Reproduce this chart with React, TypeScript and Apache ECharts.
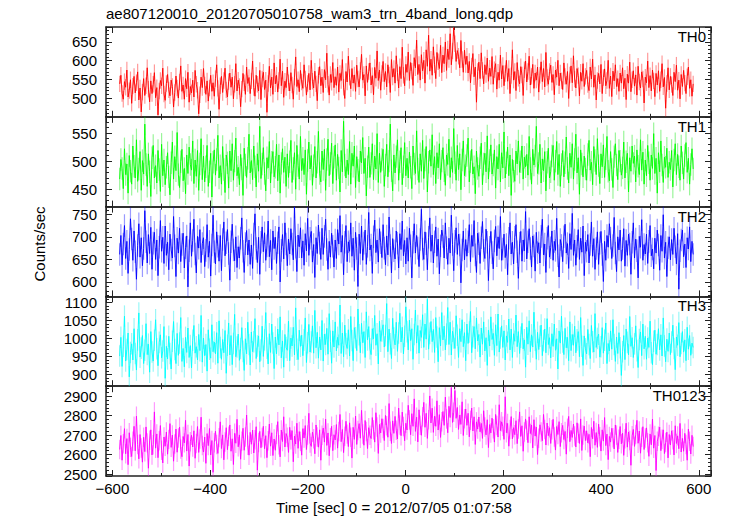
import React, { useEffect, useRef } from 'react';
import * as echarts from 'echarts';

const TITLE = 'ae807120010_20120705010758_wam3_trn_4band_long.qdp';
const X_NAME = 'Time [sec] 0 = 2012/07/05 01:07:58';
const Y_NAME = 'Counts/sec';
const PANEL_NAMES = ['TH0', 'TH1', 'TH2', 'TH3', 'TH0123'];
const COLORS = ['#ff0000', '#00ff00', '#0000ff', '#00ffff', '#ff00ff'];
const ERR_COLORS = ['rgba(255,0,0,0.4)', 'rgba(0,230,0,0.4)', 'rgba(0,0,255,0.4)', 'rgba(0,235,235,0.4)', 'rgba(255,0,255,0.4)'];
const Y_MIN = [450, 419, 568, 867, 2490];
const Y_MAX = [690, 579, 767, 1117, 2951];
const ERRORS = [22, 20, 25, 30, 50];
const X_MIN = -613;
const X_MAX = 625;
const T_START = -585;
const BIN = 2.45;

const TH0 = [
  538, 561, 512, 497, 544, 529, 575, 503, 520, 549,
  486, 532, 558, 514, 541, 570, 495, 527, 463, 516,
  552, 507, 533, 581, 524, 490, 546, 512, 537, 568,
  501, 528, 455, 519, 547, 533, 580, 511, 494, 539,
  563, 522, 506, 548, 531, 476, 515, 559, 527, 500,
  543, 586, 518, 535, 497, 552, 525, 569, 489, 531,
  514, 548, 503, 574, 537, 521, 458, 509, 556, 528,
  579, 535, 510, 546, 492, 527, 561, 518, 541, 505,
  552, 589, 526, 470, 533, 558, 515, 547, 580, 522,
  503, 544, 567, 529, 556, 498, 537, 592, 519, 548,
  531, 477, 524, 566, 541, 510, 583, 539, 555, 512,
  546, 599, 528, 505, 561, 537, 519, 574, 496, 551,
  569, 523, 548, 462, 539, 585, 527, 556, 510, 594,
  538, 561, 516, 547, 604, 533, 572, 502, 545, 528,
  583, 541, 519, 568, 535, 497, 556, 610, 531, 549,
  517, 574, 543, 526, 589, 551, 508, 539, 566, 522,
  601, 545, 527, 572, 538, 493, 561, 584, 533, 556,
  515, 576, 549, 620, 537, 508, 563, 542, 595, 528,
  557, 534, 583, 516, 566, 547, 603, 529, 499, 571,
  543, 612, 556, 525, 579, 540, 562, 518, 588, 551,
  530, 574, 617, 548, 563, 506, 586, 542, 571, 594,
  535, 560, 509, 582, 553, 626, 547, 575, 521, 566,
  598, 544, 571, 530, 589, 562, 515, 603, 556, 579,
  540, 613, 568, 527, 584, 552, 636, 561, 533, 590,
  569, 623, 547, 595, 572, 534, 608, 581, 655, 563,
  590, 548, 616, 573, 601, 540, 629, 585, 668, 572,
  604, 561, 637, 589, 552, 622, 597, 579, 641, 568,
  615, 592, 650, 574, 631, 603, 672, 589, 626, 688,
  645, 598, 627, 612, 581, 654, 603, 569, 628, 590,
  612, 567, 598, 541, 586, 619, 557, 583, 489, 571,
  596, 552, 621, 574, 538, 589, 563, 607, 545, 580,
  558, 611, 537, 576, 592, 524, 569, 548, 615, 551,
  587, 533, 566, 601, 545, 579, 512, 560, 629, 548,
  571, 520, 595, 553, 538, 584, 562, 507, 576, 599,
  543, 571, 612, 535, 558, 590, 526, 567, 548, 583,
  516, 561, 597, 544, 579, 530, 622, 555, 537, 571,
  588, 542, 563, 509, 575, 556, 601, 533, 567, 546,
  523, 594, 558, 537, 571, 499, 562, 586, 541, 613,
  551, 527, 579, 560, 506, 569, 545, 592, 531, 558,
  574, 536, 520, 583, 551, 604, 529, 562, 495, 547,
  566, 538, 590, 512, 555, 578, 533, 547, 601, 526,
  559, 504, 572, 546, 589, 531, 552, 518, 567, 540,
  581, 525, 553, 496, 564, 540, 596, 517, 549, 573,
  532, 562, 508, 585, 543, 527, 570, 551, 487, 556,
  541, 599, 528, 560, 519, 575, 546, 504, 566, 535,
  573, 518, 549, 592, 530, 555, 473, 539, 581, 522,
  558, 536, 507, 569, 544, 588, 521, 548, 498, 563,
  531, 574, 540, 512, 557, 583, 526, 549, 505, 538,
];

const TH1 = [
  468, 503, 487, 451, 522, 476, 495, 443, 510, 482,
  459, 527, 491, 470, 538, 464, 486, 517, 448, 501,
  477, 566, 494, 455, 513, 481, 437, 506, 528, 470,
  492, 461, 519, 485, 446, 530, 474, 502, 458, 489,
  515, 472, 440, 497, 534, 468, 508, 483, 551, 476,
  453, 499, 521, 465, 487, 442, 511, 478, 525, 494,
  484, 536, 460, 502, 473, 519, 448, 495, 540, 467,
  509, 463, 490, 528, 455, 481, 514, 436, 498, 520,
  475, 503, 546, 470, 492, 459, 526, 485, 444, 511,
  497, 452, 518, 483, 531, 466, 500, 541, 474, 489,
  458, 512, 486, 439, 523, 493, 471, 505, 548, 479,
  501, 467, 527, 490, 454, 513, 482, 562, 469, 495,
  524, 478, 447, 506, 488, 535, 461, 498, 517, 472,
  489, 530, 465, 511, 443, 496, 522, 480, 507, 455,
  513, 471, 499, 537, 462, 487, 515, 450, 528, 492,
  468, 544, 483, 505, 476, 520, 441, 501, 534, 486,
  510, 457, 492, 526, 470, 498, 553, 478, 463, 518,
  485, 521, 448, 503, 539, 474, 496, 532, 460, 507,
  529, 466, 512, 488, 445, 519, 481, 571, 493, 470,
  502, 476, 535, 459, 514, 491, 527, 453, 508, 484,
  463, 518, 497, 542, 478, 505, 438, 490, 525, 471,
  496, 531, 467, 509, 486, 549, 462, 514, 480, 503,
  521, 455, 493, 530, 472, 500, 566, 483, 447, 511,
  479, 508, 538, 466, 499, 524, 458, 490, 533, 474,
  505, 470, 516, 489, 451, 527, 495, 478, 554, 486,
  462, 513, 482, 537, 469, 502, 526, 445, 498, 520,
  491, 547, 476, 508, 460, 515, 488, 531, 467, 500,
  524, 483, 457, 511, 494, 539, 471, 506, 480, 558,
  497, 466, 528, 485, 513, 449, 502, 536, 474, 492,
  510, 541, 463, 499, 521, 477, 490, 442, 518, 487,
  473, 506, 532, 458, 495, 514, 481, 545, 468, 501,
  529, 477, 493, 520, 452, 508, 486, 530, 463, 515,
  488, 552, 470, 497, 525, 474, 511, 439, 503, 482,
  464, 518, 495, 536, 480, 499, 527, 468, 507, 490,
  512, 475, 544, 487, 459, 521, 493, 509, 562, 478,
  496, 530, 461, 504, 483, 517, 447, 498, 523, 470,
  481, 509, 528, 466, 500, 535, 476, 512, 455, 494,
  519, 472, 497, 543, 487, 461, 514, 489, 531, 468,
  503, 548, 479, 506, 441, 520, 495, 472, 509, 486,
  466, 512, 537, 484, 498, 458, 526, 501, 476, 540,
  492, 460, 513, 490, 529, 471, 504, 544, 482, 465,
  517, 485, 453, 508, 531, 493, 467, 519, 500, 475,
  488, 534, 470, 499, 514, 445, 506, 482, 527, 496,
  509, 463, 520, 491, 476, 538, 484, 516, 459, 502,
  474, 528, 497, 466, 511, 487, 549, 478, 505, 443,
  515, 481, 536, 493, 462, 507, 489, 523, 471, 498,
  485, 519, 454, 502, 531, 476, 512, 490, 466, 527,
  497, 468, 510, 533, 480, 505, 459, 494, 522, 486,
];

const TH2 = [
  661, 703, 638, 684, 725, 652, 690, 619, 672, 740,
  695, 648, 713, 667, 606, 681, 729, 655, 698, 636,
  674, 758, 689, 642, 705, 663, 721, 628, 686, 710,
  650, 693, 614, 677, 736, 668, 699, 641, 724, 659,
  688, 627, 706, 671, 653, 745, 680, 612, 697, 664,
  719, 645, 683, 708, 631, 676, 702, 589, 669, 731,
  657, 692, 739, 662, 620, 701, 675, 716, 643, 685,
  698, 634, 670, 727, 655, 690, 613, 682, 748, 667,
  640, 711, 679, 646, 703, 625, 694, 733, 658, 687,
  716, 663, 604, 689, 728, 671, 647, 700, 632, 678,
  653, 697, 742, 668, 621, 685, 714, 660, 693, 639,
  682, 630, 706, 751, 674, 643, 699, 617, 688, 722,
  667, 709, 648, 680, 735, 656, 692, 627, 713, 674,
  699, 641, 687, 722, 600, 670, 705, 651, 731, 684,
  636, 695, 662, 718, 684, 649, 766, 677, 623, 704,
  678, 720, 653, 691, 637, 707, 669, 741, 659, 697,
  712, 644, 683, 610, 698, 663, 726, 686, 650, 719,
  661, 701, 739, 672, 628, 690, 655, 708, 679, 633,
  693, 652, 716, 684, 747, 666, 703, 616, 688, 725,
  645, 689, 668, 731, 657, 697, 626, 710, 674, 590,
  706, 663, 724, 648, 686, 715, 639, 679, 754, 671,
  682, 619, 700, 737, 665, 693, 644, 718, 687, 654,
  727, 675, 638, 702, 660, 744, 681, 620, 696, 669,
  651, 713, 686, 631, 707, 672, 735, 658, 692, 640,
  698, 646, 719, 680, 609, 688, 729, 664, 703, 675,
  634, 694, 761, 673, 650, 711, 685, 627, 699, 742,
  668, 704, 642, 689, 722, 657, 695, 618, 680, 715,
  701, 653, 731, 676, 639, 697, 664, 748, 683, 625,
  690, 720, 661, 706, 682, 598, 671, 713, 649, 694,
  657, 689, 727, 645, 703, 679, 736, 660, 621, 708,
  685, 641, 698, 734, 670, 652, 717, 688, 603, 677,
  712, 665, 629, 691, 723, 658, 700, 674, 745, 648,
  673, 706, 654, 683, 616, 697, 731, 662, 688, 640,
  699, 727, 667, 608, 686, 712, 646, 693, 669, 756,
  651, 689, 718, 674, 633, 702, 680, 624, 710, 665,
  687, 642, 701, 739, 660, 684, 621, 697, 725, 655,
  676, 713, 648, 690, 670, 741, 658, 611, 694, 681,
  645, 700, 728, 664, 685, 630, 707, 672, 752, 659,
  693, 637, 679, 716, 650, 697, 666, 724, 614, 688,
  668, 705, 642, 683, 733, 657, 696, 628, 674, 711,
  639, 686, 712, 661, 601, 690, 648, 703, 677, 729,
  697, 652, 681, 743, 664, 623, 700, 671, 715, 646,
  674, 718, 635, 692, 659, 706, 684, 617, 688, 731,
  653, 695, 669, 609, 701, 677, 738, 648, 683, 662,
  706, 641, 690, 725, 658, 673, 629, 697, 664, 715,
  682, 626, 703, 668, 749, 653, 688, 612, 676, 700,
  649, 694, 661, 719, 678, 640, 707, 584, 669, 693,
  715, 656, 684, 632, 698, 673, 722, 645, 690, 661,
];

const TH3 = [
  951, 1003, 922, 978, 1062, 937, 969, 1015, 893, 961,
  985, 940, 1027, 958, 912, 996, 1071, 948, 973, 1008,
  930, 967, 1041, 955, 984, 906, 1019, 962, 937, 995,
  1052, 971, 924, 989, 1010, 946, 965, 1033, 889, 978,
  943, 1006, 958, 915, 992, 1047, 969, 930, 1014, 953,
  987, 1058, 936, 972, 921, 1003, 961, 1029, 947, 980,
  918, 995, 1036, 959, 977, 940, 1011, 966, 1064, 934,
  1001, 952, 983, 909, 1024, 970, 945, 1038, 963, 990,
  957, 1016, 931, 1049, 975, 942, 997, 960, 1022, 903,
  981, 1043, 954, 1008, 927, 986, 1067, 949, 976, 1012,
  939, 972, 1030, 964, 911, 999, 957, 1045, 983, 926,
  1018, 963, 991, 1055, 944, 979, 1007, 935, 968, 1034,
  950, 996, 1072, 973, 929, 1013, 961, 1040, 987, 916,
  1004, 957, 1026, 982, 1060, 946, 993, 920, 1011, 975,
  967, 1048, 938, 1001, 979, 1031, 954, 1085, 970, 941,
  1023, 978, 1009, 952, 996, 1057, 933, 988, 1039, 962,
  990, 1035, 959, 1078, 974, 1017, 945, 1004, 968, 1050,
  937, 1012, 983, 1028, 956, 1069, 992, 931, 1021, 976,
  1046, 965, 1003, 981, 1093, 958, 1015, 949, 1037, 985,
  972, 1024, 951, 1061, 994, 938, 1030, 1002, 966, 1082,
  1010, 960, 1042, 988, 1019, 947, 1074, 996, 1033, 971,
  955, 1027, 999, 1064, 981, 1013, 929, 1048, 992, 1021,
  1038, 976, 1008, 1097, 963, 1026, 985, 944, 1056, 1001,
  982, 1045, 964, 1015, 1070, 990, 1031, 957, 1006, 1088,
  1019, 968, 1051, 994, 1027, 942, 1011, 1079, 987, 1036,
  959, 1022, 1003, 1066, 975, 1040, 998, 1109, 970, 1014,
  1047, 991, 1025, 961, 1058, 1004, 935, 1030, 979, 1072,
  996, 1034, 968, 1012, 1086, 983, 1045, 954, 1020, 1001,
  972, 1063, 1009, 947, 1027, 991, 1052, 977, 1016, 938,
  1040, 986, 1018, 1075, 960, 1005, 1033, 971, 1057, 993,
  1011, 948, 1029, 984, 1046, 965, 1002, 925, 1023, 979,
  1060, 997, 1014, 953, 1038, 980, 1068, 962, 1001, 1035,
  975, 1021, 940, 1007, 989, 1054, 968, 1026, 947, 1013,
  992, 1065, 977, 1019, 958, 1003, 1042, 971, 996, 920,
  1031, 984, 1049, 963, 1010, 976, 1073, 995, 942, 1017,
  969, 1006, 1037, 952, 994, 1026, 960, 1055, 983, 1002,
  946, 1013, 978, 1040, 967, 999, 915, 1021, 987, 1062,
  990, 955, 1028, 974, 1003, 938, 1046, 966, 1011, 981,
  1034, 960, 996, 1019, 949, 1058, 978, 925, 1007, 971,
  957, 1025, 983, 944, 1036, 991, 962, 1069, 975, 1000,
  1012, 948, 977, 1030, 959, 995, 1043, 930, 986, 965,
  1021, 970, 1052, 983, 936, 1004, 958, 1016, 974, 897,
  963, 1008, 941, 1026, 989, 954, 1061, 978, 1002, 947,
  985, 1035, 966, 919, 997, 1018, 952, 1040, 971, 1006,
  942, 1001, 975, 1048, 960, 927, 992, 1023, 956, 983,
  1027, 968, 1010, 951, 1057, 979, 935, 998, 964, 1015,
  955, 990, 1037, 972, 913, 1004, 981, 1044, 949, 986,
  1019, 962, 996, 938, 1031, 970, 1008, 953, 987, 975,
];

const TH0123 = [
  2626, 2698, 2571, 2655, 2733, 2604, 2682, 2548, 2712, 2637,
  2590, 2668, 2745, 2619, 2797, 2652, 2578, 2703, 2634, 2561,
  2689, 2615, 2742, 2660, 2530, 2674, 2727, 2598, 2651, 2819,
  2633, 2706, 2584, 2671, 2749, 2622, 2557, 2690, 2643, 2716,
  2602, 2678, 2759, 2637, 2700, 2566, 2654, 2731, 2612, 2685,
  2741, 2628, 2589, 2693, 2660, 2776, 2618, 2703, 2541, 2666,
  2699, 2639, 2722, 2581, 2657, 2744, 2611, 2680, 2792, 2647,
  2613, 2690, 2555, 2708, 2646, 2734, 2598, 2672, 2509, 2661,
  2720, 2652, 2606, 2687, 2768, 2631, 2701, 2573, 2664, 2738,
  2625, 2694, 2752, 2617, 2681, 2549, 2709, 2658, 2781, 2640,
  2701, 2576, 2669, 2735, 2622, 2690, 2803, 2648, 2597, 2714,
  2653, 2726, 2608, 2676, 2743, 2520, 2662, 2719, 2635, 2688,
  2745, 2630, 2697, 2584, 2671, 2757, 2643, 2712, 2595, 2680,
  2622, 2703, 2769, 2650, 2588, 2726, 2667, 2794, 2639, 2708,
  2689, 2611, 2740, 2676, 2723, 2563, 2695, 2654, 2761, 2632,
  2718, 2668, 2597, 2733, 2685, 2749, 2626, 2700, 2812, 2659,
  2642, 2715, 2681, 2604, 2752, 2690, 2638, 2727, 2571, 2699,
  2736, 2664, 2782, 2647, 2711, 2594, 2687, 2745, 2620, 2702,
  2675, 2754, 2633, 2718, 2806, 2666, 2729, 2610, 2694, 2771,
  2705, 2641, 2763, 2689, 2582, 2740, 2678, 2798, 2652, 2723,
  2759, 2684, 2827, 2706, 2648, 2775, 2719, 2631, 2738, 2699,
  2682, 2790, 2727, 2664, 2815, 2741, 2606, 2755, 2711, 2784,
  2734, 2672, 2801, 2748, 2689, 2862, 2720, 2657, 2773, 2709,
  2796, 2725, 2680, 2839, 2752, 2697, 2818, 2744, 2671, 2761,
  2726, 2853, 2778, 2702, 2810, 2745, 2886, 2719, 2792, 2665,
  2830, 2751, 2699, 2794, 2868, 2740, 2812, 2683, 2779, 2901,
  2762, 2838, 2714, 2797, 2745, 2876, 2726, 2805, 2688, 2769,
  2821, 2750, 2895, 2783, 2712, 2848, 2790, 2944, 2765, 2817,
  2929, 2786, 2842, 2729, 2803, 2755, 2871, 2698, 2784, 2834,
  2750, 2812, 2691, 2776, 2839, 2721, 2794, 2652, 2768, 2731,
  2793, 2717, 2760, 2683, 2825, 2742, 2701, 2779, 2636, 2754,
  2711, 2787, 2732, 2664, 2806, 2749, 2690, 2856, 2723, 2768,
  2745, 2678, 2897, 2712, 2760, 2643, 2729, 2795, 2681, 2738,
  2702, 2774, 2656, 2731, 2819, 2693, 2748, 2617, 2716, 2783,
  2725, 2661, 2794, 2708, 2752, 2634, 2779, 2695, 2741, 2600,
  2684, 2753, 2716, 2671, 2806, 2729, 2649, 2762, 2697, 2738,
  2657, 2728, 2781, 2690, 2623, 2744, 2703, 2769, 2641, 2712,
  2750, 2677, 2719, 2602, 2735, 2796, 2666, 2724, 2688, 2757,
  2695, 2639, 2763, 2710, 2657, 2783, 2621, 2701, 2746, 2672,
  2722, 2660, 2704, 2589, 2739, 2681, 2771, 2648, 2713, 2637,
  2756, 2692, 2618, 2727, 2669, 2790, 2646, 2705, 2574, 2693,
  2664, 2735, 2686, 2629, 2752, 2700, 2611, 2679, 2744, 2655,
  2710, 2596, 2681, 2761, 2638, 2716, 2672, 2545, 2697, 2729,
  2642, 2703, 2776, 2658, 2721, 2607, 2689, 2743, 2626, 2685,
  2737, 2661, 2591, 2706, 2650, 2782, 2633, 2698, 2518, 2668,
  2694, 2741, 2620, 2679, 2727, 2605, 2662, 2715, 2583, 2703,
  2649, 2722, 2676, 2598, 2748, 2657, 2696, 2630, 2760, 2613,
  2683, 2617, 2709, 2652, 2571, 2731, 2668, 2603, 2699, 2641,
];

const SERIES = [TH0, TH1, TH2, TH3, TH0123];

const FONT = '"Liberation Sans", Arial, Helvetica, sans-serif';
const AXIS_COLOR = '#222';
const GRID_LEFT = 106;
const GRID_RIGHT = 20;
const PANEL_TOP = 27;
const PANEL_H = 89.8;

function fmtX(v: number) {
  return v < 0 ? '\u2212' + Math.abs(v) : String(v);
}

export default function App() {
  const ref = useRef<HTMLDivElement>(null);
  useEffect(() => {
    if (!ref.current) return;
    const chart = echarts.init(ref.current, null, { renderer: 'svg' });
    const grids: any[] = [];
    const xAxes: any[] = [];
    const yAxes: any[] = [];
    const series: any[] = [];
    const graphics: any[] = [];
    const lineStyle = { color: AXIS_COLOR, width: 1.5 };

    SERIES.forEach((vals, i) => {
      grids.push({ left: GRID_LEFT, right: GRID_RIGHT, top: PANEL_TOP + i * PANEL_H, height: PANEL_H });
      const baseX = {
        type: 'value', gridIndex: i, min: X_MIN, max: X_MAX, splitNumber: 5,
        axisLine: { show: true, onZero: false, lineStyle },
        axisTick: { show: true, inside: true, length: 6, lineStyle: { color: AXIS_COLOR, width: 1 } },
        minorTick: { show: true, splitNumber: 2, length: 3, lineStyle: { color: AXIS_COLOR, width: 1 } },
        splitLine: { show: false },
        minorSplitLine: { show: false },
      };
      xAxes.push({
        ...baseX, position: 'bottom',
        axisLabel: {
          show: i === SERIES.length - 1, fontSize: 15, fontFamily: FONT, color: '#000', margin: 5,
          showMinLabel: false, showMaxLabel: false, formatter: fmtX,
        },
      });
      xAxes.push({ ...baseX, position: 'top', axisLabel: { show: false } });
      const baseY = {
        type: 'value', gridIndex: i, min: Y_MIN[i], max: Y_MAX[i], splitNumber: 4,
        axisLine: { show: true, onZero: false, lineStyle },
        axisTick: { show: true, inside: true, length: 6, lineStyle: { color: AXIS_COLOR, width: 1 } },
        minorTick: { show: true, splitNumber: 5, length: 3, lineStyle: { color: AXIS_COLOR, width: 1 } },
        splitLine: { show: false },
        minorSplitLine: { show: false },
      };
      yAxes.push({
        ...baseY, position: 'left',
        axisLabel: {
          show: true, fontSize: 15, fontFamily: FONT, color: '#000', margin: 9,
          showMinLabel: false, showMaxLabel: false, formatter: (v: number) => String(v),
        },
      });
      yAxes.push({ ...baseY, position: 'right', axisLabel: { show: false } });

      const err = ERRORS[i];
      const pts = vals.map((v, k) => [T_START + k * BIN, v]);
      const errPts = vals.map((v, k) => [T_START + k * BIN, v, err]);
      const light = ERR_COLORS[i];
      series.push({
        type: 'custom', xAxisIndex: 2 * i, yAxisIndex: 2 * i,
        data: errPts, encode: { x: 0, y: 1 },
        renderItem: (params: any, api: any) => {
          const x = api.value(0);
          const y = api.value(1);
          const e = api.value(2);
          const p1 = api.coord([x, y + e]);
          const p2 = api.coord([x, y - e]);
          const cs = params.coordSys;
          const shape = echarts.graphic.clipRectByRect(
            { x: p1[0] - 0.6, y: p1[1], width: 1.2, height: p2[1] - p1[1] },
            { x: cs.x, y: cs.y, width: cs.width, height: cs.height }
          );
          if (!shape) return null;
          return { type: 'rect', shape, style: { fill: light } };
        },
        silent: true, z: 1,
      });
      series.push({
        type: 'line', xAxisIndex: 2 * i, yAxisIndex: 2 * i,
        data: pts, showSymbol: false, symbol: 'none', clip: true,
        lineStyle: { color: COLORS[i], width: 0.9 }, silent: true, z: 2,
      });
      graphics.push({
        type: 'text', right: 731 - 706, top: PANEL_TOP + i * PANEL_H + 2,
        style: { text: PANEL_NAMES[i], fontSize: 15, fontFamily: FONT, fill: '#000' },
        z: 10,
      });
    });

    graphics.push({
      type: 'text', left: 106, top: 6,
      style: { text: TITLE, fontSize: 15, fontFamily: FONT, fill: '#000' },
    });
    graphics.push({
      type: 'text', x: 394, y: 507,
      style: { text: X_NAME, fontSize: 15, fontFamily: FONT, fill: '#000', align: 'center', verticalAlign: 'middle' },
    });
    graphics.push({
      type: 'text', x: 39, y: 244, rotation: Math.PI / 2,
      style: { text: Y_NAME, fontSize: 15, fontFamily: FONT, fill: '#000', align: 'center', verticalAlign: 'middle' },
    });

    chart.setOption({
      animation: false,
      backgroundColor: '#fff',
      grid: grids,
      xAxis: xAxes,
      yAxis: yAxes,
      series,
      graphic: graphics,
    });
    return () => chart.dispose();
  }, []);
  return <div ref={ref} style={{ position: 'fixed', left: 0, top: 0, width: 731, height: 516 }} />;
}
